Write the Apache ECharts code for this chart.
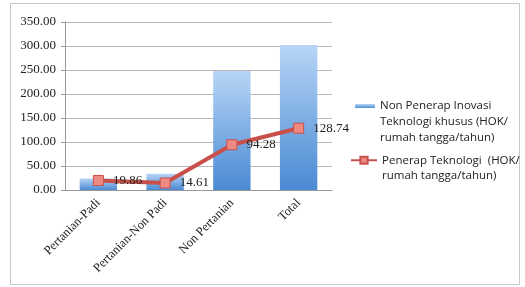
<!DOCTYPE html>
<html>
<head>
<meta charset="utf-8">
<script src="https://cdn.jsdelivr.net/npm/echarts@6/dist/echarts.min.js"></script>
<style>
  html, body { margin: 0; padding: 0; background: #fff; }
  #chart { width: 525px; height: 287px; }
</style>
</head>
<body>
<div id="chart"></div>
<script>
const categories = ['Pertanian-Padi', 'Pertanian-Non Padi', 'Non Pertanian', 'Total'];
const nonPenerap = [24, 34, 248, 302];
const penerap = [19.86, 14.61, 94.28, 128.74];
const barName = 'Non Penerap Inovasi Teknologi khusus (HOK/ rumah tangga/tahun)';
const lineName = 'Penerap Teknologi  (HOK/ rumah tangga/tahun)';
const barLegendLines = ['Non Penerap Inovasi', 'Teknologi khusus (HOK/', 'rumah tangga/tahun)'];
const lineLegendLines = ['Penerap Teknologi  (HOK/', 'rumah tangga/tahun)'];

let chartDom = document.getElementById('chart');
let myChart = echarts.init(chartDom);
let option;

const serif = '"Liberation Serif", "DejaVu Serif", serif';
const sans = '"Open Sans", "Noto Sans", sans-serif';

// legend icon sits at the middle of the text block, so pad with blank lines
// on top to bring the first line level with the icon
function legendText(lines) {
  const pad = [];
  for (let i = 1; i < lines.length; i++) pad.push(' ');
  return pad.concat(lines).join('\n');
}

option = {
  animation: false,
  graphic: [
    {
      type: 'rect',
      shape: { x: 10.5, y: 3.5, width: 509, height: 281 },
      style: { fill: 'none', stroke: '#c8c8c8', lineWidth: 1 },
      silent: true,
    },
  ],
  grid: { left: 65, right: 193, top: 22, bottom: 97 },
  legend: [
    {
      data: [barName],
      orient: 'vertical',
      left: 355,
      top: 66,
      padding: 0,
      itemWidth: 20,
      itemHeight: 4,
      formatter: () => legendText(barLegendLines),
      textStyle: { fontFamily: sans, fontSize: 11.5, color: '#222', lineHeight: 16 },
    },
    {
      data: [lineName],
      orient: 'vertical',
      left: 350,
      top: 137,
      padding: 0,
      itemWidth: 26,
      itemHeight: 9,
      formatter: () => legendText(lineLegendLines),
      textStyle: { fontFamily: sans, fontSize: 11.5, color: '#222', lineHeight: 15.5 },
    },
  ],
  xAxis: {
    type: 'category',
    data: categories,
    axisTick: { show: false },
    axisLine: { lineStyle: { color: '#999' } },
    axisLabel: {
      rotate: 45,
      interval: 0,
      margin: 11,
      fontFamily: serif,
      fontSize: 12.5,
      color: '#222',
    },
  },
  yAxis: {
    type: 'value',
    min: 0,
    max: 350,
    interval: 50,
    axisLine: { show: true, lineStyle: { color: '#999' } },
    axisTick: { show: true, length: 4, lineStyle: { color: '#999' } },
    splitLine: { lineStyle: { color: '#b8b8b8' } },
    axisLabel: {
      margin: 9,
      fontFamily: serif,
      fontSize: 13,
      color: '#222',
      formatter: (v) => v.toFixed(2),
    },
  },
  series: [
    {
      name: barName,
      type: 'bar',
      barWidth: '56%',
      data: nonPenerap,
      itemStyle: {
        color: new echarts.graphic.LinearGradient(0, 0, 0, 1, [
          { offset: 0, color: '#b7d5f6' },
          { offset: 1, color: '#4a8ad3' },
        ]),
      },
    },
    {
      name: lineName,
      type: 'line',
      data: penerap,
      symbol: 'rect',
      symbolSize: 10,
      lineStyle: { color: '#c9504a', width: 4 },
      itemStyle: { color: '#ee8a84', borderColor: '#c9504a', borderWidth: 1 },
      label: {
        show: true,
        position: 'right',
        distance: 9,
        fontFamily: serif,
        fontSize: 13,
        color: '#222',
        formatter: (p) => p.value.toFixed(2),
      },
      z: 5,
    },
  ],
};
option && myChart.setOption(option);
</script>
</body>
</html>
